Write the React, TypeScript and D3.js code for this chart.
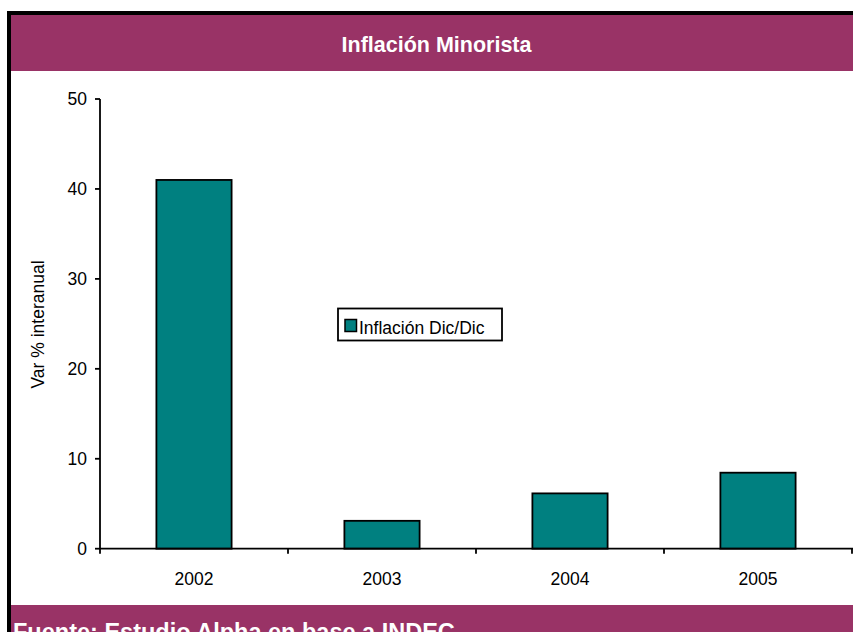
import React from "react";
import * as d3 from "d3";

const categories = ["2002", "2003", "2004", "2005"];
const values = [41.0, 3.1, 6.15, 8.45];
const yTicks = [0, 10, 20, 30, 40, 50];
const title = "Inflación Minorista";
const seriesName = "Inflación Dic/Dic";
const yLabel = "Var % interanual";
const footer = "Fuente: Estudio Alpha en base a INDEC";

const W = 853;
const H = 632;
const PURPLE = "#993366";
const TEAL = "#008080";
const FONT = "'Liberation Sans', Arial, sans-serif";

export default function App() {
  const x = d3.scaleBand<string>().domain(categories).range([100, 852]).paddingInner(0.6).paddingOuter(0.3);
  const y = d3.scaleLinear().domain([0, 50]).range([548.7, 99]);
  const step = x.step();
  const boundaries = categories.map((_, i) => 100 + i * step).concat([852]);

  return (
    <svg width={W} height={H} style={{ position: "absolute", left: 0, top: 0, background: "#fff" }} fontFamily={FONT}>
      {/* frame */}
      <rect x={7} y={11} width={W} height={H} fill="#000" />
      <rect x={11} y={15} width={W} height={H} fill="#fff" />
      {/* header */}
      <rect x={11} y={15} width={W - 11} height={56} fill={PURPLE} />
      <text x={436.5} y={52} textAnchor="middle" fill="#fff" fontWeight="bold" fontSize={21.5}>{title}</text>
      {/* footer */}
      <rect x={11} y={605} width={W - 11} height={H - 605} fill={PURPLE} />
      <text x={13} y={640} fill="#fff" fontWeight="bold" fontSize={23.5}>{footer}</text>

      {/* bars */}
      {categories.map((c, i) => (
        <rect key={c} x={x(c)} y={y(values[i])} width={x.bandwidth()} height={y(0) - y(values[i])}
          fill={TEAL} stroke="#000" strokeWidth={1.8} />
      ))}

      {/* y axis */}
      <line x1={100} x2={100} y1={y(50)} y2={y(0)} stroke="#000" strokeWidth={1.8} />
      {yTicks.map((t) => (
        <g key={t}>
          <line x1={95} x2={100} y1={y(t)} y2={y(t)} stroke="#000" strokeWidth={1.8} />
          <text x={87} y={y(t)} dy="0.35em" textAnchor="end" fontSize={17.5} fill="#000">{t}</text>
        </g>
      ))}
      {/* x axis */}
      <line x1={100} x2={W} y1={y(0)} y2={y(0)} stroke="#000" strokeWidth={1.8} />
      {boundaries.map((b, i) => (
        <line key={i} x1={b} x2={b} y1={y(0)} y2={y(0) + 5} stroke="#000" strokeWidth={1.8} />
      ))}
      {categories.map((c) => (
        <text key={c} x={(x(c) as number) + x.bandwidth() / 2} y={585.3} textAnchor="middle" fontSize={17.5} fill="#000">{c}</text>
      ))}

      {/* y label */}
      <text transform={`translate(44,324.5) rotate(-90)`} textAnchor="middle" fontSize={17.5} fill="#000">{yLabel}</text>

      {/* legend */}
      <rect x={338} y={308.5} width={164} height={32} fill="#fff" stroke="#000" strokeWidth={1.8} />
      <rect x={345} y={319.5} width={11.5} height={12} fill={TEAL} stroke="#000" strokeWidth={1.5} />
      <text x={359} y={333.5} fontSize={17.5} fill="#000">{seriesName}</text>
    </svg>
  );
}
